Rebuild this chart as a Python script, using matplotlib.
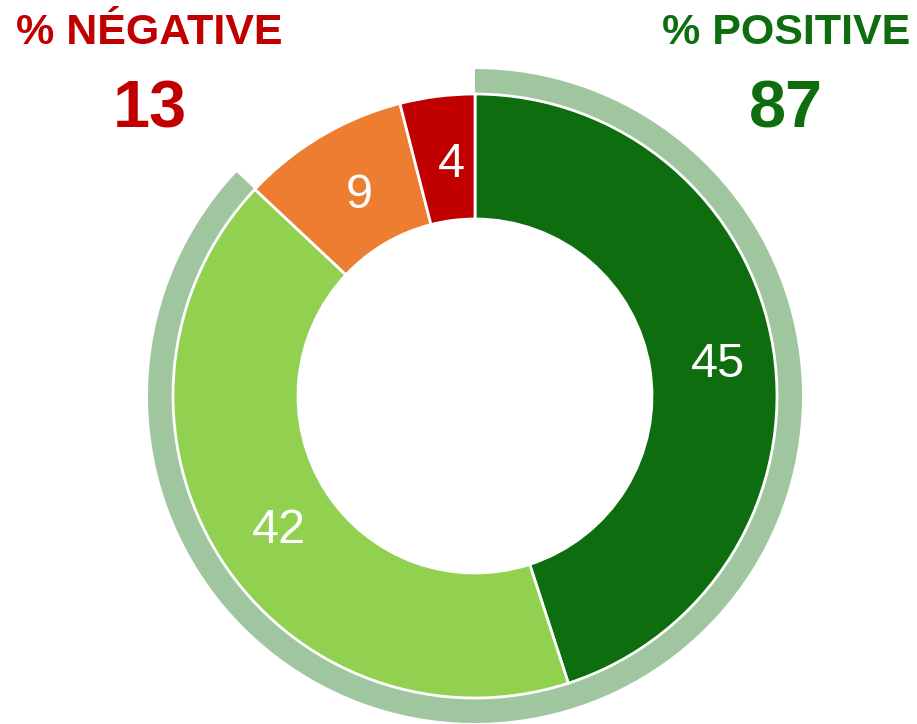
import matplotlib
matplotlib.use("Agg")
import matplotlib.pyplot as plt

categories = ["Very positive", "Somewhat positive", "Somewhat negative", "Very negative"]
values = [45, 42, 9, 4]
colors = ["#0E6D0E", "#92D050", "#ED7D31", "#C00000"]
positive_total = values[0] + values[1]
negative_total = values[2] + values[3]
neg_title = "% NÉGATIVE"
pos_title = "% POSITIVE"

W, H = 917, 724
fig = plt.figure(figsize=(W / 100, H / 100), dpi=100)
ax = fig.add_axes([0, 0, 1, 1])

cx, cy = 475, H - 396
R_out, R_in = 302, 177

# outer ring marking positive share
ax.pie([positive_total, negative_total], colors=["#A0C6A0", "none"],
       startangle=90, counterclock=False, center=(cx, cy), radius=327,
       wedgeprops=dict(width=26, edgecolor="none"), frame=True)

# main donut
wedges, texts = ax.pie(values, colors=colors, startangle=90, counterclock=False,
       center=(cx, cy), radius=R_out, labels=[str(v) for v in values],
       labeldistance=(R_out + R_in) / 2 / R_out,
       textprops=dict(color="white", fontsize=35, family="Liberation Sans",
                      ha="center", va="center"),
       wedgeprops=dict(width=R_out - R_in, edgecolor="white", linewidth=2),
       frame=True)
for t in texts:
    x, y = t.get_position()
    t.set_position((x + 6, y - 6))

ax.set_xlim(0, W)
ax.set_ylim(0, H)
ax.set_aspect("equal")
ax.axis("off")

ax.text(149, H - 33, neg_title, color="#C00000", fontsize=31, fontweight="bold",
        family="Liberation Sans", ha="center", va="center")
ax.text(150, H - 111, str(negative_total), color="#C00000", fontsize=48,
        fontweight="bold", family="Liberation Sans", ha="center", va="center")
ax.text(786, H - 33, pos_title, color="#0E6D0E", fontsize=31, fontweight="bold",
        family="Liberation Sans", ha="center", va="center")
ax.text(786, H - 111, str(positive_total), color="#0E6D0E", fontsize=48,
        fontweight="bold", family="Liberation Sans", ha="center", va="center")

fig.savefig("out.png", dpi=100)
